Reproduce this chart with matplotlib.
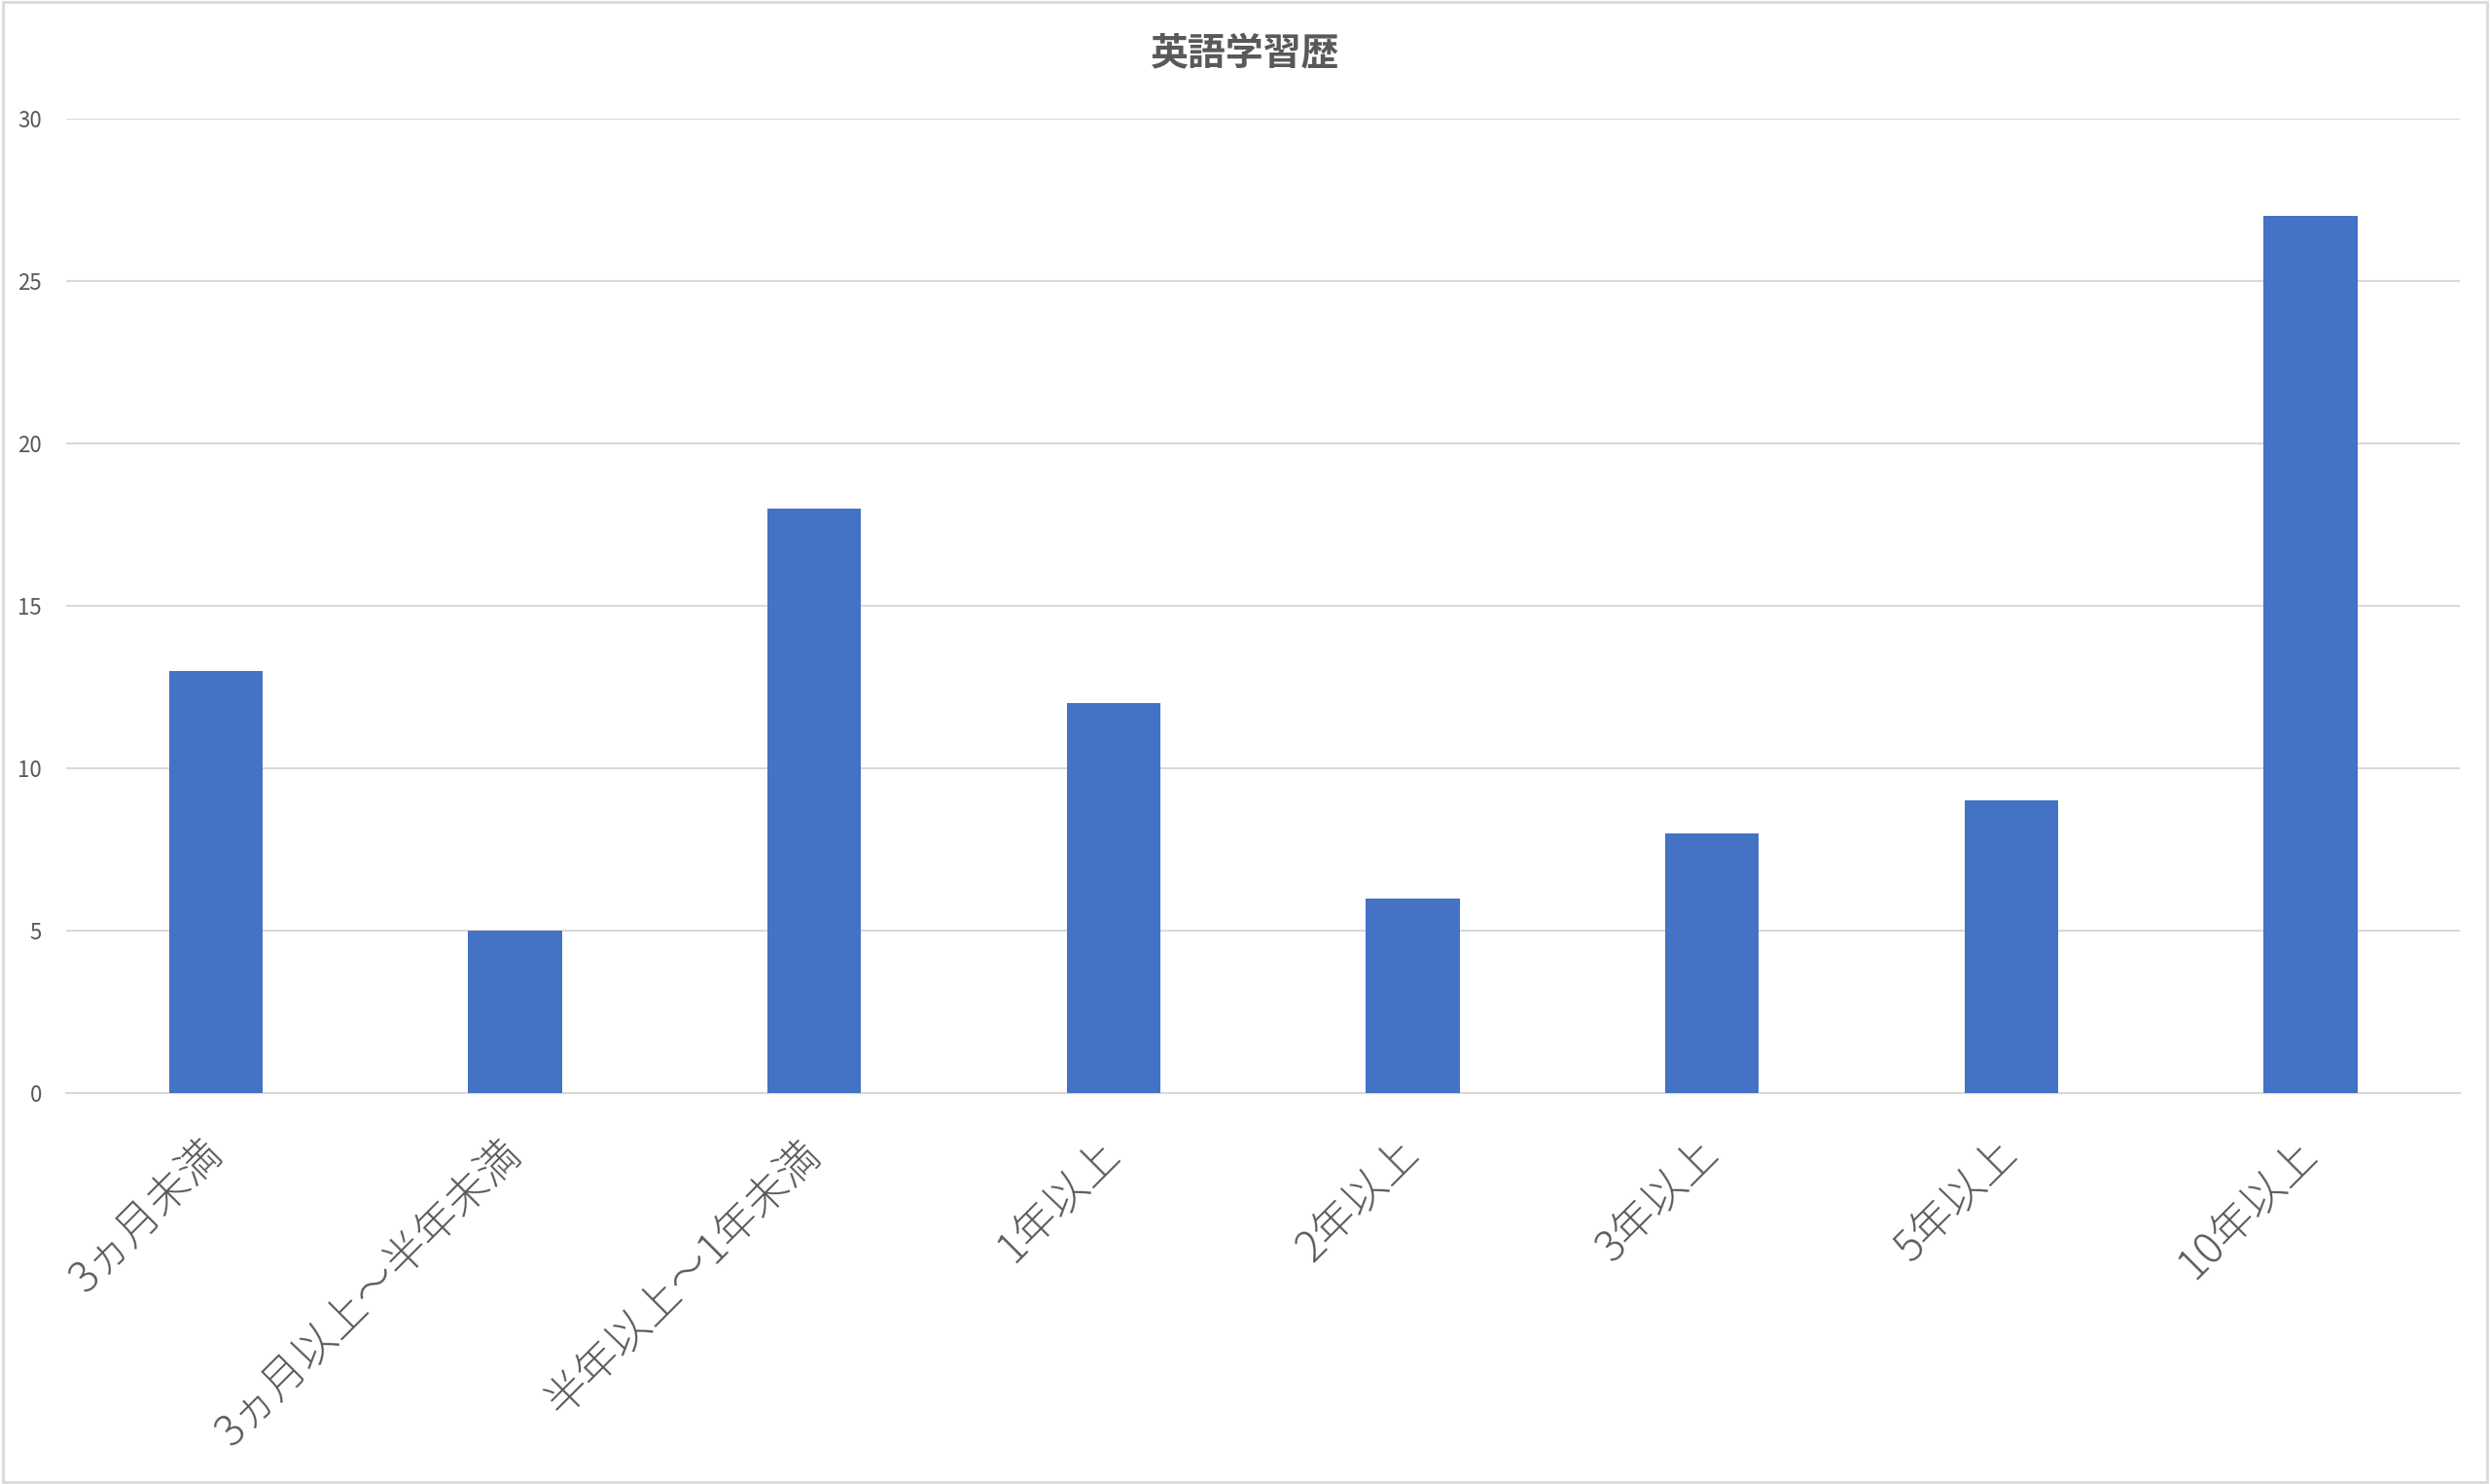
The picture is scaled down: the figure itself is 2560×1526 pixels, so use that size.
import matplotlib
matplotlib.use("Agg")
import matplotlib.pyplot as plt
from matplotlib.patches import Rectangle

# ==================================
# DATA
# ==================================

categories = [
    "3ヵ月未満",
    "3ヵ月以上～半年未満",
    "半年以上～1年未満",
    "1年以上",
    "2年以上",
    "3年以上",
    "5年以上",
    "10年以上",
]
counts = [13, 5, 18, 12, 6, 8, 9, 27]
y_ticks = [0, 5, 10, 15, 20, 25, 30]
title = "英語学習歴"

# ==================================
# STYLE
# ==================================

plt.rcParams["font.family"] = ["Noto Sans CJK JP", "DejaVu Sans"]

BAR_COLOR = "#4472C4"
TEXT_COLOR = "#595959"
GRID_COLOR = "#D9D9D9"

fig = plt.figure(figsize=(25.6, 15.26), dpi=100)
ax = fig.add_axes([0.0265, 0.2634, 0.9615, 0.6566])

x = range(len(categories))
ax.bar(x, counts, width=0.313, color=BAR_COLOR, zorder=3)

ax.set_xlim(-0.5, len(categories) - 0.5)
ax.set_ylim(0, 30)
ax.set_yticks(y_ticks)
ax.set_yticklabels([str(v) for v in y_ticks], fontsize=16, color=TEXT_COLOR)

ax.set_xticks(list(x))
ax.set_xticklabels(
    categories,
    rotation=45,
    ha="right",
    va="center",
    rotation_mode="anchor",
    fontsize=32,
    color=TEXT_COLOR,
    fontweight="light",
)

ax.tick_params(axis="both", length=0)
ax.tick_params(axis="y", pad=18)
ax.tick_params(axis="x", pad=40)

ax.grid(axis="y", color=GRID_COLOR, linewidth=1.5, zorder=0)
for side in ["top", "left", "right"]:
    ax.spines[side].set_visible(False)
ax.spines["bottom"].set_color(GRID_COLOR)
ax.spines["bottom"].set_linewidth(1.5)

fig.text(
    0.5, 0.9635, title,
    ha="center", va="center",
    fontsize=28, color=TEXT_COLOR, fontweight="bold",
)

# chart border
fig.patches.append(
    Rectangle((0.001, 0.001), 0.998, 0.998, transform=fig.transFigure,
              fill=False, edgecolor=GRID_COLOR, linewidth=2)
)

plt.savefig("out.png", dpi=100)
plt.close()
